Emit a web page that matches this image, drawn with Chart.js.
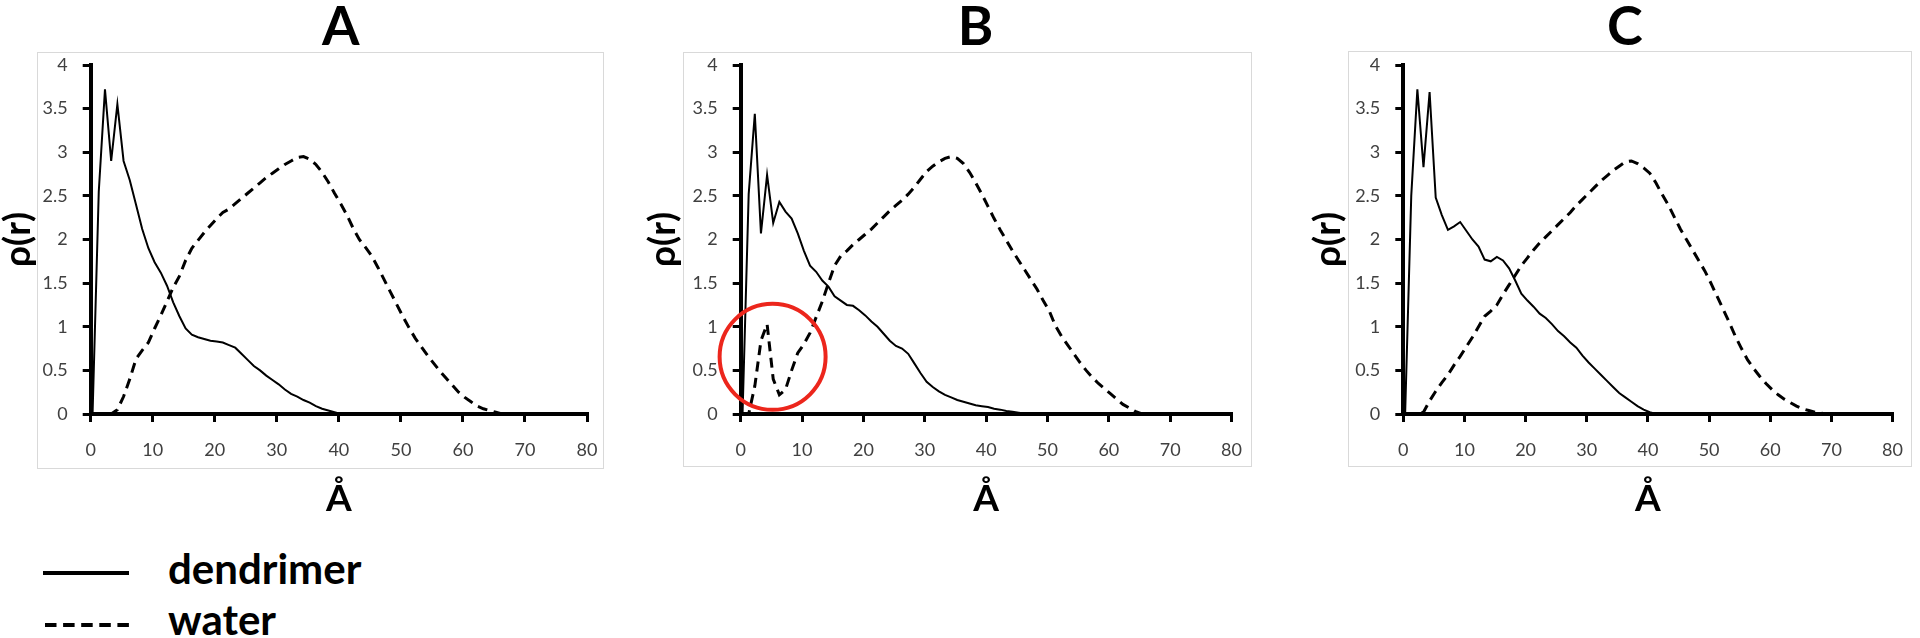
<!DOCTYPE html>
<html>
<head>
<meta charset="utf-8">
<script src="https://cdn.jsdelivr.net/npm/chart.js@4.4.1/dist/chart.umd.min.js"></script>
<style>
html,body{margin:0;padding:0;background:#fff;}
#wrap{position:relative;width:1920px;height:638px;overflow:hidden;background:#fff;}
#wrap canvas{position:absolute;top:0;}
.leg{position:absolute;font-family:Lato,sans-serif;font-weight:700;font-size:42px;line-height:42px;color:#000;white-space:nowrap;}
</style>
</head>
<body>
<div id="wrap">
  <canvas id="cA" width="620" height="520" style="left:0px"></canvas>
  <canvas id="cB" width="614" height="520" style="left:645px"></canvas>
  <canvas id="cC" width="610" height="520" style="left:1310px"></canvas>
  <svg style="position:absolute;left:0;top:540px" width="140" height="98">
    <line x1="43" y1="33" x2="129" y2="33" stroke="#000" stroke-width="4"/>
    <line x1="45" y1="85" x2="129" y2="85" stroke="#000" stroke-width="4" stroke-dasharray="11.5 6.6"/>
  </svg>
  <div class="leg" style="left:168px;top:547px">dendrimer</div>
  <div class="leg" style="left:168px;top:598px">water</div>
</div>
<script>
// ---- data ----
const panelTitles = ['A', 'B', 'C'];
const seriesNames = ['dendrimer', 'water'];
const xTitle = 'Å';
const yTitle = 'ρ(r)';

const radius = [0.3,1.3,2.3,3.3,4.3,5.3,6.3,7.3,8.3,9.3,10.3,11.3,12.3,13.3,14.3,15.3,16.3,17.3,18.3,19.3,
  20.3,21.3,22.3,23.3,24.3,25.3,26.3,27.3,28.3,29.3,30.3,31.3,32.3,33.3,34.3,35.3,36.3,37.3,38.3,39.3,
  40.3,41.3,42.3,43.3,44.3,45.3,46.3,47.3,48.3,49.3,50.3,51.3,52.3,53.3,54.3,55.3,56.3,57.3,58.3,59.3,
  60.3,61.3,62.3,63.3,64.3,65.3,66.3,67.3,68.3,69.3];

const dendA = [0,2.55,3.72,2.9,3.55,2.9,2.68,2.40,2.12,1.90,1.74,1.62,1.47,1.28,1.12,0.98,0.91,0.88,0.86,0.84,
  0.83,0.82,0.79,0.76,0.69,0.62,0.55,0.50,0.44,0.39,0.34,0.28,0.23,0.20,0.16,0.13,0.09,0.06,0.04,0.02,0,0];
const waterA = [0,0,0,0,0.05,0.2,0.40,0.63,0.73,0.82,0.98,1.13,1.29,1.45,1.58,1.76,1.90,1.99,2.08,2.16,
  2.24,2.31,2.35,2.41,2.47,2.53,2.59,2.65,2.71,2.76,2.81,2.86,2.90,2.94,2.95,2.92,2.86,2.77,2.66,2.53,
  2.41,2.28,2.13,2.00,1.91,1.81,1.68,1.54,1.40,1.26,1.12,0.99,0.87,0.77,0.67,0.58,0.49,0.41,0.33,0.25,
  0.19,0.14,0.09,0.06,0.04,0.02,0,0];

const dendB = [0,2.52,3.44,2.07,2.74,2.19,2.43,2.32,2.24,2.07,1.87,1.70,1.63,1.53,1.46,1.35,1.30,1.25,1.24,1.19,
  1.13,1.06,1.00,0.92,0.84,0.78,0.75,0.69,0.58,0.47,0.37,0.31,0.26,0.22,0.19,0.16,0.14,0.12,0.10,0.09,
  0.08,0.06,0.05,0.035,0.025,0.015,0.005,0];
const waterB = [0,0,0.32,0.84,1.03,0.40,0.22,0.28,0.50,0.70,0.80,0.93,1.11,1.29,1.50,1.70,1.81,1.87,1.94,2.00,
  2.06,2.12,2.19,2.26,2.33,2.39,2.45,2.52,2.60,2.69,2.78,2.84,2.89,2.93,2.95,2.93,2.87,2.77,2.65,2.52,
  2.38,2.24,2.11,1.99,1.87,1.76,1.65,1.54,1.43,1.30,1.18,1.01,0.89,0.79,0.69,0.59,0.50,0.42,0.35,0.29,
  0.23,0.17,0.11,0.07,0.03,0.005,0];

const dendC = [0,2.50,3.72,2.83,3.69,2.48,2.28,2.11,2.15,2.20,2.10,2.00,1.92,1.77,1.75,1.80,1.76,1.67,1.53,1.38,
  1.30,1.23,1.15,1.10,1.03,0.95,0.89,0.82,0.76,0.67,0.59,0.52,0.45,0.38,0.31,0.24,0.19,0.14,0.09,0.05,
  0.02,0];
const waterC = [0,0,0,0.02,0.15,0.26,0.36,0.45,0.56,0.66,0.77,0.88,1.00,1.12,1.18,1.25,1.37,1.48,1.59,1.70,
  1.79,1.88,1.96,2.03,2.10,2.17,2.24,2.31,2.39,2.46,2.53,2.60,2.67,2.73,2.79,2.84,2.89,2.90,2.87,2.82,
  2.76,2.65,2.52,2.40,2.26,2.12,2.00,1.88,1.76,1.64,1.50,1.35,1.20,1.05,0.89,0.75,0.62,0.52,0.43,0.35,
  0.28,0.22,0.17,0.13,0.09,0.06,0.04,0.02,0.01,0];

const xTicks = [0,10,20,30,40,50,60,70,80];
const yTicks = [0,0.5,1,1.5,2,2.5,3,3.5,4];

// ---- rendering ----
const pts = vals => vals.map((v, i) => ({x: radius[i], y: v}));

const boxPlugin = {
  id: 'panelBox',
  beforeDraw(chart, args, o) {
    const {ctx, chartArea: a} = chart;
    ctx.save();
    ctx.strokeStyle = '#d9d9d9';
    ctx.lineWidth = 1;
    ctx.strokeRect(Math.round(a.left - o.l) + 0.5, Math.round(a.top - o.t) + 0.5,
      Math.round(a.width + o.l + o.r), Math.round(a.height + o.t + o.b));
    ctx.restore();
  }
};
const titlePos = {
  id: 'titlePos',
  afterLayout(chart, args, o) {
    const tb = chart.titleBlock;
    if (!tb) return;
    tb.left = o.cx - 60; tb.right = o.cx + 60; tb.width = 120;
  }
};
const circlePlugin = {
  id: 'circleMark',
  afterDatasetsDraw(chart, args, o) {
    if (!o || !o.show) return;
    const {ctx, scales} = chart;
    const cx = scales.x.getPixelForValue(o.x), cy = scales.y.getPixelForValue(o.y);
    ctx.save();
    ctx.strokeStyle = 'rgb(236,38,28)';
    ctx.lineWidth = 4;
    ctx.beginPath();
    ctx.arc(cx, cy, o.r, 0, Math.PI * 2);
    ctx.stroke();
    ctx.restore();
  }
};

function makeChart(id, title, dend, water, cfg) {
  const tickFont = {family: 'Lato', size: 18};
  const gridOpts = {display: true, drawOnChartArea: false, drawTicks: true, tickLength: 8,
    color: '#000', lineWidth: 3};
  return new Chart(document.getElementById(id), {
    type: 'line',
    data: {
      datasets: [
        {label: seriesNames[0], data: pts(dend), borderColor: '#000', borderWidth: 2,
         pointRadius: 0, tension: 0, fill: false},
        {label: seriesNames[1], data: pts(water), borderColor: '#000', borderWidth: 3,
         borderDash: [10, 6.5], pointRadius: 0, tension: 0, fill: false}
      ]
    },
    options: {
      responsive: false, animation: false, devicePixelRatio: 1,
      layout: {padding: {left: 0, right: cfg.padR, top: 0, bottom: 0}},
      plugins: {
        legend: {display: false}, tooltip: {enabled: false},
        title: {display: true, text: title, color: '#000',
          font: {family: 'Lato', size: 54, weight: 'bold', lineHeight: 1},
          padding: {top: 1, bottom: 10}},
        panelBox: cfg.box,
        titlePos: {cx: cfg.titleX},
        circleMark: cfg.circle || {show: false}
      },
      scales: {
        x: {type: 'linear', min: 0, max: 80,
          afterBuildTicks: s => { s.ticks = xTicks.map(v => ({value: v})); },
          ticks: {color: '#404040', font: tickFont, padding: 17, maxRotation: 0,
            callback: v => String(v)},
          grid: gridOpts,
          border: {display: true, color: '#000', width: 4},
          title: {display: true, text: xTitle, color: '#000',
            font: {family: 'Lato', size: 37, weight: 'bold', lineHeight: 1.1},
            padding: {top: 0, bottom: 1}},
          afterFit: s => { s.height = 106; }
        },
        y: {type: 'linear', min: 0, max: 4,
          afterBuildTicks: s => { s.ticks = yTicks.map(v => ({value: v})); },
          ticks: {color: '#404040', font: tickFont, padding: 15, callback: v => String(v)},
          grid: gridOpts,
          border: {display: true, color: '#000', width: 4},
          title: {display: true, text: yTitle, color: '#000',
            font: {family: 'Lato', size: 37, weight: 'bold', lineHeight: 1},
            padding: {top: 0, bottom: 0}},
          afterFit: s => { s.width = cfg.yWidth; }
        }
      }
    },
    plugins: [boxPlugin, titlePos, circlePlugin]
  });
}

makeChart('cA', panelTitles[0], dendA, waterA,
  {padR: 33, yWidth: 90.7, titleX: 340.8, box: {l: 54, r: 16, t: 13, b: 54}});
makeChart('cB', panelTitles[1], dendB, waterB,
  {padR: 20, yWidth: 95.7, titleX: 330.5, box: {l: 58, r: 19, t: 13, b: 52},
   circle: {show: true, x: 5.2, y: 0.655, r: 53}});
makeChart('cC', panelTitles[2], dendC, waterC,
  {padR: 20, yWidth: 93.3, titleX: 314.9, box: {l: 55, r: 19, t: 14, b: 52}});
</script>
</body>
</html>
